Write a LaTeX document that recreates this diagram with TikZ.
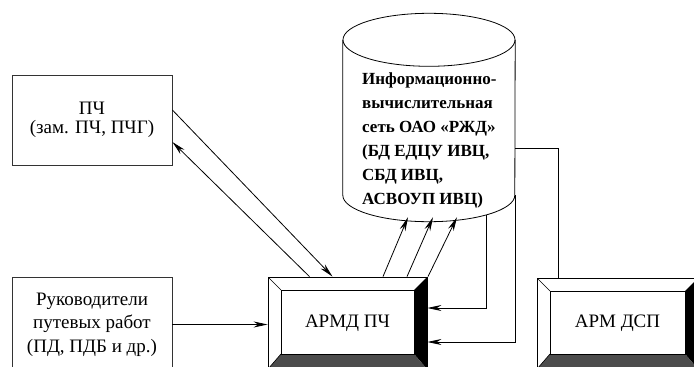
\documentclass[tikz,border=0pt]{standalone}
\usepackage{fontspec}
\setmainfont{Liberation Serif}
\usetikzlibrary{positioning,arrows.meta,calc}

\begin{document}
\begin{tikzpicture}[
  x=1pt, y=-1pt,
  font=\fontsize{19}{23.5}\selectfont,
  >={Stealth[length=14pt,width=6pt]},
  base/.style={draw=black!80, line width=0.8pt, align=center, inner sep=2pt},
  box/.style={base, minimum width=160pt},
  arm/.style={base, draw=black, path picture={
      \fill[black] (path picture bounding box.north east) -- (path picture bounding box.south east)
        -- ++(-13,-15) -- ($(path picture bounding box.north east)+(-13,13)$) -- cycle;
      \fill[black!70] (path picture bounding box.south west) -- (path picture bounding box.south east)
        -- ++(-13,-15) -- ($(path picture bounding box.south west)+(13,-15)$) -- cycle;
      \draw[line width=0.8pt] ($(path picture bounding box.north west)+(13,13)$) rectangle ($(path picture bounding box.south east)+(-13,-15)$);
      \draw[line width=0.6pt] (path picture bounding box.north west) -- ++(13,13);
      \draw[line width=0.6pt] (path picture bounding box.south west) -- ++(13,-15);
    }},
  ar/.style={->, line width=0.8pt},
  ln/.style={line width=0.8pt}
]
\useasboundingbox (0,0) rectangle (694,367);
\clip (0,0) rectangle (694,367);
% блоки
\node[box, minimum height=90pt] (pch) at (92,120) {ПЧ\\[-4pt](зам. ПЧ, ПЧГ)};
\node[box, minimum height=95pt] (ruk) at (92,324.5) {Руководители\\путевых работ\\(ПД, ПДБ и др.)};
\node[arm, minimum width=159pt, minimum height=92pt] (armd) at (347.5,323) {\raisebox{-4pt}{АРМД ПЧ}};
\node[arm, minimum width=161pt, minimum height=91pt] (dsp) at (617.5,323.5) {\raisebox{-6pt}{АРМ ДСП}};
% сеть (цилиндр)
\node[minimum width=172pt, minimum height=155pt, inner sep=0pt] (db) at (429,117.5) {};
\draw[ln] (db.north west) -- (db.south west) arc[start angle=180, end angle=0, x radius=86, y radius=26.5] -- (db.north east);
\draw[ln] (db.north) ellipse[x radius=86, y radius=26.5];
\node[align=left, inner sep=0pt, anchor=west, font=\fontsize{17}{24}\selectfont\bfseries] (dbtext) at (362,140) {Информационно-\\вычислительная\\сеть ОАО «РЖД»\\(БД ЕДЦУ ИВЦ,\\СБД ИВЦ,\\АСВОУП ИВЦ)};
% стрелки
\draw[ar] ($(pch.east)+(0,-10)$) -- ($(armd.north)+(-15,0)$);
\draw[ar] ($(armd.north)+(-38,0)$) -- ($(pch.east)+(0,22)$);
\foreach \dx/\tx in {35.5/-21, 59.5/4, 80.5/28}
  \draw[ar] ($(armd.north)+(\dx,0)$) -- ($(db.south)+(\tx,22)$);
\draw[ar] ($(db.south)+(57,19.5)$) |- ($(armd.east)+(0,-15)$);
\draw[ar] (db.south east) |- ($(armd.east)+(0,19)$);
\draw[ln] ($(db.east)+(0,30.5)$) -| ($(dsp.north)+(-59.5,0)$);
\draw[ar] (ruk.east) -- (ruk.east -| armd.west);
\end{tikzpicture}
\end{document}
